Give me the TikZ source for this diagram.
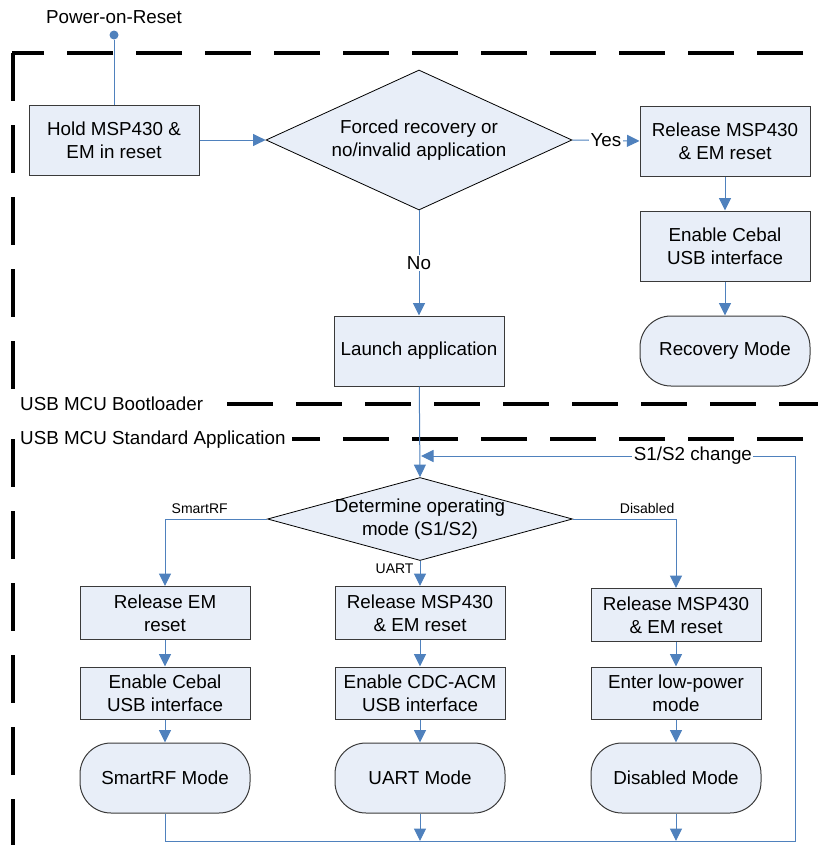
\documentclass[tikz,border=0pt]{standalone}
\usepackage{fontspec}
\setmainfont{Liberation Sans}
\usetikzlibrary{arrows.meta,shapes.geometric}
\definecolor{boxfill}{HTML}{E8EEF8}
\definecolor{conn}{HTML}{4F81BD}
\definecolor{bord}{HTML}{3A3A3A}
\begin{document}
\begin{tikzpicture}[x=1pt,y=-1pt,
  every node/.style={font=\fontsize{18.8}{23}\selectfont, inner sep=0pt, align=center},
  proc/.style={draw=bord, fill=boxfill, line width=1pt, minimum width=170pt, minimum height=70pt},
  procs/.style={proc, minimum height=53pt},
  term/.style={proc, rounded corners=31pt},
  dia/.style={diamond, draw=black, fill=boxfill, line width=0.8pt, inner sep=0pt},
  arr/.style={draw=conn, line width=1pt, -{Triangle[length=12.5pt,width=12pt]}},
  ln/.style={draw=conn, line width=1pt},
  frameH/.style={line width=4pt, dash pattern=on 46pt off 23pt},
  frameV/.style={line width=4pt, dash pattern=on 48pt off 24pt},
  lbl/.style={fill=white, inner sep=1.5pt},
  small/.style={font=\fontsize{14}{16}\selectfont}
]
\useasboundingbox (0,0) rectangle (818,854);

% ---- dashed frames ----
\draw[frameH] (803,53) -- (12,53);
\draw[frameV] (13,53) -- (13,395);
\draw[frameH] (227,404) -- (818,404);
\draw[frameH] (803,439) -- (292,439);
\draw[frameV] (13,439) -- (13,845);
\node[anchor=west] (bootlbl) at (20,404) {USB MCU Bootloader};
\node[anchor=west] (applbl) at (20,440) {USB MCU Standard Application};

% ---- bootloader part ----
\node (por) at (114,17) {Power-on-Reset};
\node[circle, fill=conn, minimum size=9pt, inner sep=0pt] (dot) at (114,35) {};
\node[proc] (hold) at (114,140) {Hold MSP430 \&\\EM in reset};
\node[dia, minimum width=306pt, minimum height=140pt] (d1) at (419,140) {};
\node (d1txt) at (d1) {Forced recovery or\\no/invalid application};
\node[proc] (rel1) at (725,141) {Release MSP430\\\& EM reset};
\node[proc] (ceb1) at (725,246) {Enable Cebal\\USB interface};
\node[term] (rec) at (725,351) {Recovery Mode};
\node[proc] (launch) at (419,351) {Launch application};

% ---- application part ----
\node[dia, minimum width=305pt, minimum height=83pt] (d2) at (420,519) {};
\node (d2txt) at (d2) {Determine operating\\mode (S1/S2)};

\node[procs] (a1) at (165,613) {Release EM\\reset};
\node[procs] (a2) at (420,613) {Release MSP430\\\& EM reset};
\node[procs] (a3) at (676,615) {Release MSP430\\\& EM reset};
\node[procs, minimum height=52pt] (b1) at (165,693) {Enable Cebal\\USB interface};
\node[procs, minimum height=52pt] (b2) at (420,693) {Enable CDC-ACM\\USB interface};
\node[procs, minimum height=52pt] (b3) at (676,693) {Enter low-power\\mode};
\node[term] (c1) at (165,778) {SmartRF Mode};
\node[term] (c2) at (420,778) {UART Mode};
\node[term] (c3) at (676,778) {Disabled Mode};

\coordinate (bl) at (165,841);
\coordinate (m2) at (420,841);
\coordinate (m3) at (676,841);
\coordinate (br) at (795,841);
\coordinate (tr) at (795,456);
\coordinate (tl) at (421,456);

% ---- connectors ----
\draw[ln] (dot) -- (hold.north);
\draw[arr] (hold) -- (d1.west);
\draw[arr] (d1.east) -- node[lbl] {Yes} (rel1.west);
\draw[arr] (rel1) -- (ceb1);
\draw[arr] (ceb1) -- (rec);
\draw[arr] (d1.south) -- node[lbl] {No} (launch.north);
\draw[arr] (launch) -- (d2.north);

\draw[arr] (d2.west) -| node[pos=0.33, above=5pt, small] {SmartRF} (a1.north);
\draw[arr] (d2.east) -| node[pos=0.36, above=5pt, small] {Disabled} (a3.north);
\draw[arr] (d2.south) -- node[pos=0.3, left=6pt, small] {UART} (a2.north);

\draw[arr] (a1) -- (b1);
\draw[arr] (b1) -- (c1);
\draw[arr] (a2) -- (b2);
\draw[arr] (b2) -- (c2);
\draw[arr] (a3) -- (b3);
\draw[arr] (b3) -- (c3);

\draw[arr] (c1.south) -- (bl) -- (br) -- (tr) -- node[lbl, pos=0.273] {S1/S2 change} (tl);
\draw[arr] (c2) -- (m2);
\draw[arr] (c3) -- (m3);
\end{tikzpicture}
\end{document}
